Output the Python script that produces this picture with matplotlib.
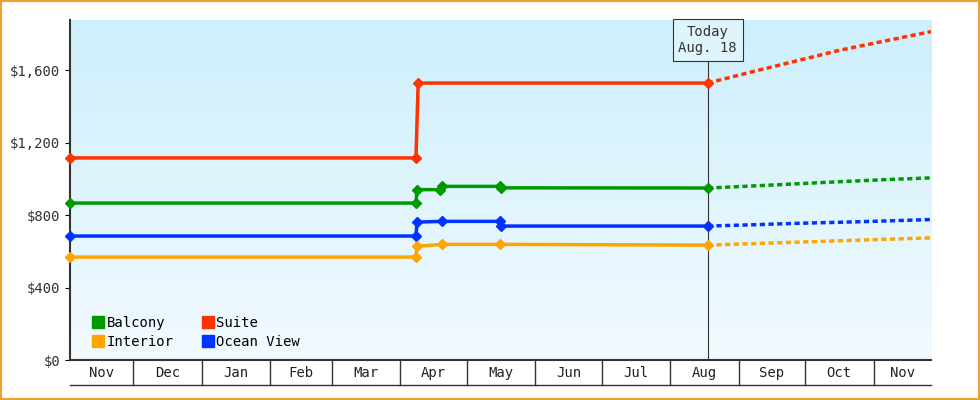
import matplotlib
matplotlib.use("Agg")
import matplotlib.pyplot as plt
import numpy as np
from matplotlib.patches import Rectangle

plt.rcParams['font.family'] = 'DejaVu Sans Mono'

months = ["Nov","Dec","Jan","Feb","Mar","Apr","May","Jun","Jul","Aug","Sep","Oct","Nov"]
month_days = [30,31,31,28,31,30,31,30,31,31,30,31,30]
today_day = 290

suite_x = [1.5, 158, 159, 290]; suite_y = [1115, 1115, 1528, 1528]
balcony_x = [1.5, 158, 158.5, 169, 170, 196, 196.5, 290]; balcony_y = [866, 866, 940, 940, 958, 958, 950, 949]
ocean_x = [1.5, 158, 158.5, 170, 196, 196.5, 290]; ocean_y = [684, 684, 761, 765, 765, 739, 739]
interior_x = [1.5, 158, 158.5, 170, 196, 290]; interior_y = [568, 568, 627, 638, 638, 634]

fc_x = [290, 310, 330, 350, 370, 391]
suite_fc = [1528, 1590, 1650, 1710, 1760, 1812]
balcony_fc = [949, 960, 972, 984, 995, 1005]
ocean_fc = [739, 746, 754, 760, 767, 775]
interior_fc = [634, 642, 650, 658, 666, 674]

fig = plt.figure(figsize=(9.8, 4.0), dpi=100)
fig.patch.set_facecolor('white')
fig.add_artist(Rectangle((0.001, 0.002), 0.998, 0.996, transform=fig.transFigure,
                         fill=False, edgecolor='#f0a030', lw=1.5))
ax = fig.add_axes([70/980, 40/400, 861/980, 340/400])
xmin, xmax, ymax = 1.5, 391, 1876
ax.set_xlim(xmin, xmax); ax.set_ylim(0, ymax)
grad = np.linspace(0, 1, 256).reshape(-1, 1)
from matplotlib.colors import LinearSegmentedColormap
cm = LinearSegmentedColormap.from_list('g', ['#f2faff', '#cdeffb'])
ax.imshow(grad, aspect='auto', cmap=cm, origin='lower', extent=[xmin, xmax, 0, ymax], zorder=0)

series = [("Suite", "#ff3300", suite_x, suite_y, suite_fc),
          ("Balcony", "#009900", balcony_x, balcony_y, balcony_fc),
          ("Ocean View", "#0033ff", ocean_x, ocean_y, ocean_fc),
          ("Interior", "#ffa500", interior_x, interior_y, interior_fc)]
for name, c, xs, ys, fc in series:
    ax.plot(xs, ys, color=c, lw=2.5, marker='D', ms=5, zorder=3, clip_on=False)
    ax.plot(fc_x, fc, color=c, lw=2.5, ls=(0, (1.5, 1)), zorder=3)

ax.axvline(today_day, color='#333333', lw=0.8, zorder=2)
ax.text(today_day, 1765, "Today\nAug. 18", ha='center', va='center', fontsize=10, color='#333333',
        bbox=dict(boxstyle='square,pad=0.4', fc='#dff4fb', ec='#333333', lw=0.8), zorder=5)

ax.set_yticks([0, 400, 800, 1200, 1600])
ax.set_yticklabels(["$0", "$400", "$800", "$1,200", "$1,600"], fontsize=10, color='#333333')
ax.set_xticks([])
for s in ['top', 'right']:
    ax.spines[s].set_visible(False)
ax.spines['left'].set_color('#333333'); ax.spines['left'].set_linewidth(1.5)
ax.spines['bottom'].set_color('#333333'); ax.spines['bottom'].set_linewidth(1.5)

# month table
starts = np.concatenate([[0], np.cumsum(month_days)])
trans = ax.get_xaxis_transform()
ax.plot([xmin, xmax], [-0.073, -0.073], transform=trans, color='#333333', lw=1, clip_on=False)
for i, m in enumerate(months):
    a = max(starts[i], xmin); b = min(starts[i+1], xmax)
    ax.text((a + b) / 2, -0.037, m, transform=trans, ha='center', va='center', fontsize=10, color='#222222')
    if starts[i] > xmin:
        ax.plot([starts[i], starts[i]], [0, -0.073], transform=trans, color='#333333', lw=1, clip_on=False)

from matplotlib.lines import Line2D
handles = [Line2D([], [], ls='', marker='s', ms=9, color=c) for c in ["#009900", "#ffa500", "#ff3300", "#0033ff"]]
ax.legend(handles, ["Balcony", "Interior", "Suite", "Ocean View"], ncol=2, loc='lower left',
          bbox_to_anchor=(0.01, -0.005), frameon=False, fontsize=10, handletextpad=0.1,
          columnspacing=2.0, labelspacing=0.35, handlelength=1)

fig.savefig("out.png", dpi=100)
